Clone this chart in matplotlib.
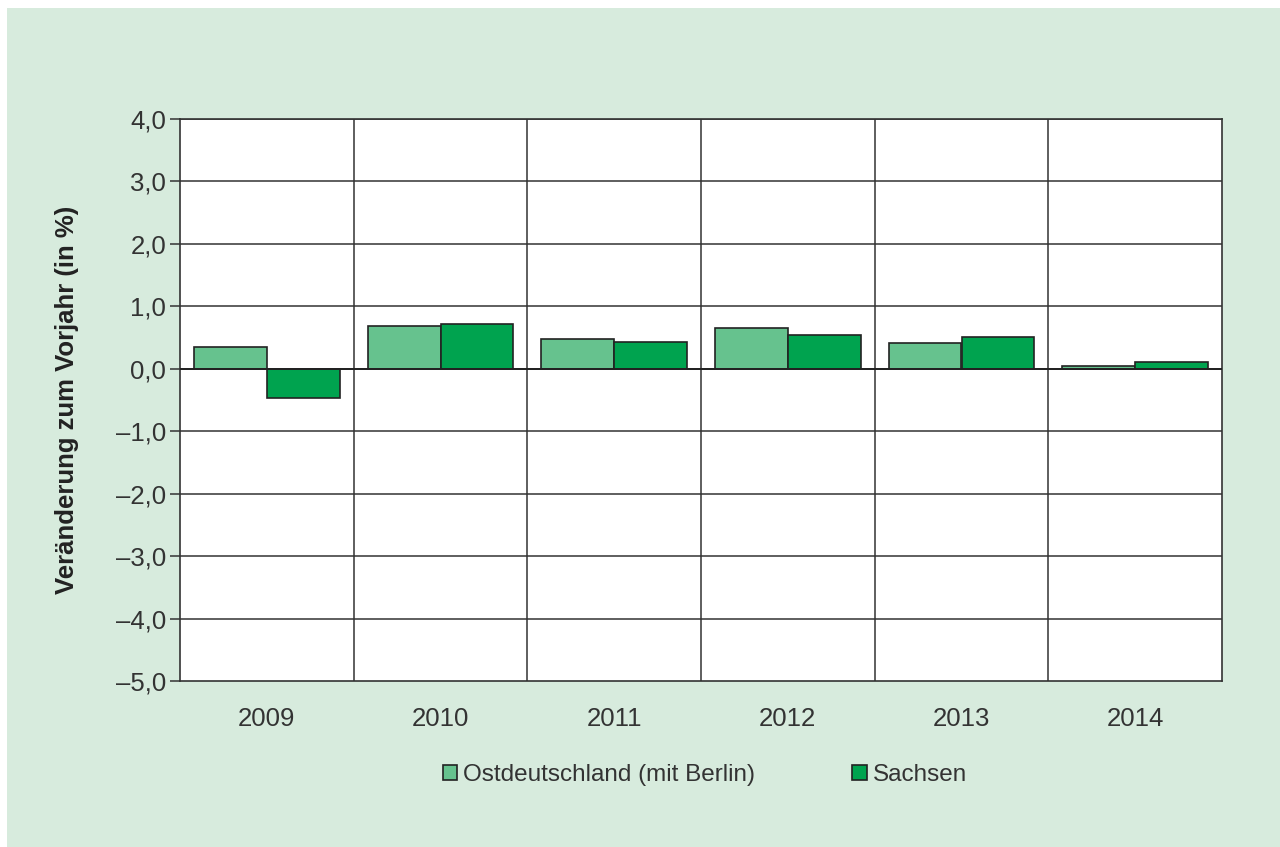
import numpy as np
import matplotlib
matplotlib.use("Agg")
from matplotlib import pyplot as plt
from matplotlib.patches import Rectangle
from matplotlib.ticker import FuncFormatter

years = ["2009", "2010", "2011", "2012", "2013", "2014"]
ost = [0.35, 0.68, 0.48, 0.65, 0.41, 0.04]
sachsen = [-0.47, 0.72, 0.43, 0.54, 0.51, 0.11]
series_names = ["Ostdeutschland (mit Berlin)", "Sachsen"]

bg = "#d7ebdd"
c_ost = "#66c28e"
c_sax = "#00a34f"
txt = "#333333"
fs = 18.5

plt.rcParams["font.family"] = ["Liberation Sans", "DejaVu Sans"]

fig = plt.figure(figsize=(12.8, 8.47), dpi=100, facecolor="white")
fig.patches.append(Rectangle((7 / 1280, 0), 1, 1 - 8 / 847, transform=fig.transFigure,
                             facecolor=bg, edgecolor="none", zorder=-10))

ax = fig.add_axes([180 / 1280, 1 - 681 / 847, 1042 / 1280, 562 / 847])
ax.set_facecolor("white")

x = np.arange(len(years))
w = 0.42
ax.bar(x - w / 2, ost, w, color=c_ost, edgecolor="#222222", linewidth=1.2,
       label=series_names[0], zorder=3)
ax.bar(x + w / 2, sachsen, w, color=c_sax, edgecolor="#222222", linewidth=1.2,
       label=series_names[1], zorder=3)

ax.set_xlim(-0.5, len(years) - 0.5)
ax.set_ylim(-5, 4)
ax.set_yticks(np.arange(-5, 5, 1))
ax.yaxis.set_major_formatter(FuncFormatter(
    lambda v, p: f"{v:.1f}".replace(".", ",").replace("-", "\u2013")))
ax.set_xticks(x)
ax.set_xticklabels(years)

# horizontal grid + category separators
for v in np.arange(-4, 5, 1):
    ax.axhline(v, color="#333333", linewidth=1.1, zorder=1)
for b in np.arange(0.5, len(years) - 0.5, 1):
    ax.axvline(b, color="#333333", linewidth=1.1, zorder=1)
ax.axhline(0, color="#222222", linewidth=1.4, zorder=4)

for s in ax.spines.values():
    s.set_color("#333333")
    s.set_linewidth(1.2)

ax.tick_params(axis="y", direction="out", length=7, width=1.1, colors="#333333",
               labelsize=fs, labelcolor=txt, pad=3)
ax.tick_params(axis="x", length=0, labelsize=fs, labelcolor=txt, pad=19)

ax.set_ylabel("Veränderung zum Vorjahr (in %)", fontsize=fs, fontweight="bold",
              color="#222222")
ax.yaxis.set_label_coords(-0.097, 0.5)

fig.legend(loc="center", bbox_to_anchor=(705 / 1280, 1 - 775 / 847), ncol=2,
           frameon=False, fontsize=17.5, handlelength=0.6, handleheight=0.6,
           handletextpad=0.25, columnspacing=4.0, labelcolor=txt)

fig.savefig("out.png", dpi=100, facecolor="white")
